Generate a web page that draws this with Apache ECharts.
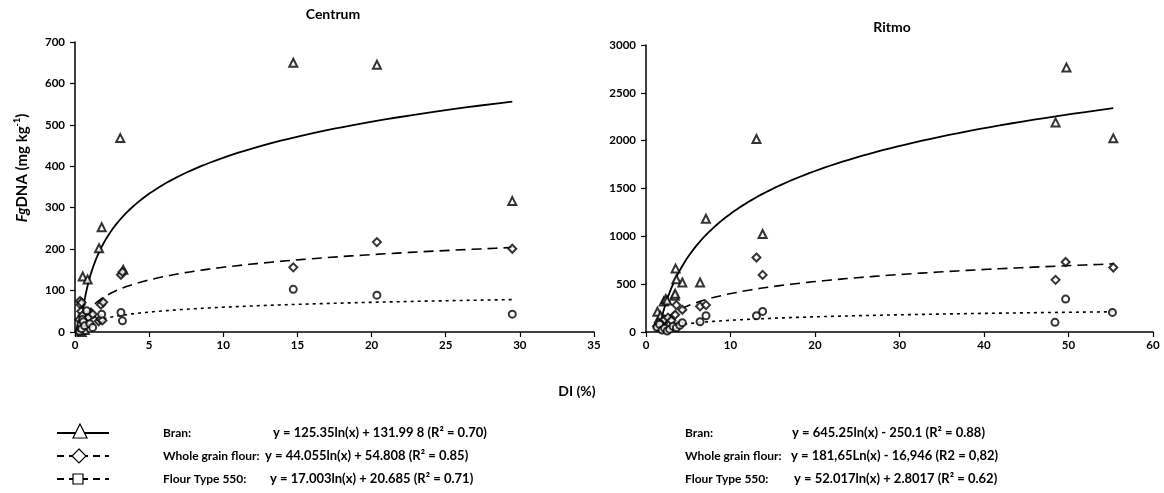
<!DOCTYPE html>
<html>
<head>
<meta charset="utf-8">
<script src="https://cdn.jsdelivr.net/npm/echarts@6/dist/echarts.min.js"></script>
<style>
  html, body { margin: 0; padding: 0; background: #fff; }
  #chart { width: 1164px; height: 493px; }
</style>
</head>
<body>
<div id="chart"></div>
<script>
// Centrum (left panel) – DI (%) vs FgDNA (mg/kg)
const centrumBranX  = [0.32, 0.38, 0.42, 0.45, 0.52, 0.56, 0.67, 0.85, 1.12, 1.62, 1.8, 3.05, 3.26, 14.72, 20.36, 29.49]
const centrumBranY  = [3, 12, 20, 0, 134, 30, 5, 127, 45, 202, 253, 468, 150, 650, 645, 316]
const centrumWholeX = [0.3, 0.34, 0.38, 0.42, 0.45, 0.5, 0.6, 0.9, 1.2, 1.6, 1.73, 1.75, 1.85, 1.9, 3.1, 3.2, 14.72, 20.36, 29.49]
const centrumWholeY = [30, 75, 66, 50, 71, 40, 20, 35, 43, 26, 31, 66, 28, 72, 138, 145, 156, 217, 201]
const centrumFlourX = [0.3, 0.35, 0.4, 0.45, 0.5, 0.56, 0.65, 0.79, 1.0, 1.19, 1.8, 3.1, 3.2, 14.72, 20.36, 29.49]
const centrumFlourY = [2, 10, 18, 8, 30, 25, 15, 51, 20, 11, 43, 47, 27, 103, 89, 43]

// Ritmo (right panel)
const ritmoBranX  = [1.35, 1.6, 1.7, 2.0, 2.1, 2.34, 2.5, 3.4, 3.45, 3.5, 3.6, 4.3, 6.4, 7.09, 13.07, 13.8, 48.47, 49.76, 55.3]
const ritmoBranY  = [211, 90, 170, 130, 320, 344, 330, 380, 400, 663, 552, 518, 518, 1184, 2017, 1024, 2191, 2764, 2024]
const ritmoWholeX = [1.3, 1.5, 1.8, 2.2, 2.6, 3.0, 3.45, 3.6, 4.3, 6.4, 7.1, 13.07, 13.8, 48.47, 49.66, 55.3]
const ritmoWholeY = [60, 100, 80, 130, 150, 120, 180, 281, 232, 268, 281, 778, 597, 545, 732, 674]
const ritmoFlourX = [1.3, 1.6, 1.9, 2.2, 2.5, 2.8, 3.2, 3.6, 4.0, 4.3, 6.4, 7.1, 13.07, 13.8, 48.4, 49.66, 55.2]
const ritmoFlourY = [50, 80, 20, 40, 10, 30, 60, 45, 70, 97, 107, 170, 170, 215, 101, 344, 205]

// logarithmic trend lines printed on the chart: y = a*ln(x) + b
const centrumTrendA = [125.35, 44.055, 17.003]
const centrumTrendB = [131.998, 54.808, 20.685]
const ritmoTrendA   = [645.25, 181.65, 52.017]
const ritmoTrendB   = [-250.1, -16.946, 2.8017]

const seriesNames = ['Bran', 'Whole grain flour', 'Flour Type 550']
const leftEquations  = ['y = 125.35ln(x) + 131.99 8 (R² = 0.70)', 'y = 44.055ln(x) + 54.808 (R² = 0.85)', 'y = 17.003ln(x) + 20.685 (R² = 0.71)']
const rightEquations = ['y = 645.25ln(x) - 250.1 (R² = 0.88)', 'y = 181,65Ln(x) - 16,946 (R2 = 0,82)', 'y = 52.017ln(x) + 2.8017 (R² = 0.62)']
const legendLabels = ['Bran:', 'Whole grain flour:', 'Flour Type 550:']

const FONT = 'Lato'
const symbols = ['emptyTriangle', 'emptyDiamond', 'emptyCircle']
const symbolSizes = [8, 8, 7]
const dashes = ['solid', [10, 6], [3, 4]]

function pairs(xs, ys) {
    return xs.map((x, i) => [x, ys[i]])
}

function trend(a, b, xs) {
    let lo = Math.min(...xs), hi = Math.max(...xs)
    let pts = []
    let n = 120
    for (let i = 0; i <= n; i++) {
        let x = lo * Math.pow(hi / lo, i / n)
        let y = a * Math.log(x) + b
        if (y >= 0) pts.push([x, y])
    }
    return pts
}

function scatter(name, idx, data, k) {
    return {
        name: name, type: 'scatter', xAxisIndex: idx, yAxisIndex: idx,
        data: data, symbol: symbols[k], symbolSize: symbolSizes[k],
        itemStyle: { color: '#000', borderColor: '#000', borderWidth: 0.7 },
        z: 3
    }
}

function trendLine(name, idx, data, k) {
    return {
        name: name, type: 'line', xAxisIndex: idx, yAxisIndex: idx,
        data: data, showSymbol: false, smooth: false,
        lineStyle: { color: '#000', width: k === 0 ? 1.8 : 1.6, type: dashes[k] },
        silent: true, z: 2
    }
}

const left = [pairs(centrumBranX, centrumBranY), pairs(centrumWholeX, centrumWholeY), pairs(centrumFlourX, centrumFlourY)]
const right = [pairs(ritmoBranX, ritmoBranY), pairs(ritmoWholeX, ritmoWholeY), pairs(ritmoFlourX, ritmoFlourY)]
const leftX = [centrumBranX, centrumWholeX, centrumFlourX]
const rightX = [ritmoBranX, ritmoWholeX, ritmoFlourX]

let series = []
for (let k = 0; k < 3; k++) {
    series.push(trendLine(seriesNames[k], 0, trend(centrumTrendA[k], centrumTrendB[k], leftX[k]), k))
    series.push(scatter(seriesNames[k], 0, left[k], k))
    series.push(trendLine(seriesNames[k], 1, trend(ritmoTrendA[k], ritmoTrendB[k], rightX[k]), k))
    series.push(scatter(seriesNames[k], 1, right[k], k))
}

const axisLabelStyle = { color: '#000', fontFamily: FONT, fontWeight: 'bold', fontSize: 11.5, formatter: v => String(v) }
const axisLineStyle = { show: true, onZero: false, lineStyle: { color: '#000', width: 1.5 } }
const tickStyle = { show: true, inside: false, length: 5, lineStyle: { color: '#000', width: 1.2 } }

function xAxis(idx, max, interval) {
    return {
        type: 'value', gridIndex: idx, min: 0, max: max, interval: interval,
        axisLine: axisLineStyle, axisTick: tickStyle, splitLine: { show: false },
        axisLabel: Object.assign({ margin: 7 }, axisLabelStyle)
    }
}

function yAxis(idx, max, interval) {
    return {
        type: 'value', gridIndex: idx, min: 0, max: max, interval: interval,
        axisLine: axisLineStyle, axisTick: tickStyle, splitLine: { show: false },
        axisLabel: Object.assign({ margin: 10 }, axisLabelStyle)
    }
}

// legend drawn by hand (Excel style): line sample + marker, label, equation
let graphics = []
const rowY = [433, 456, 479]
const leftLabelX = 163, leftEqX = [273, 265, 270]
const rightLabelX = 685, rightEqX = [792, 791, 794]
const labelStyle = { fill: '#000', font: 'bold 12px ' + FONT, textVerticalAlign: 'middle' }
const eqStyle = { fill: '#000', font: 'bold 13px ' + FONT, textVerticalAlign: 'middle' }

for (let k = 0; k < 3; k++) {
    let y = rowY[k]
    graphics.push({
        type: 'line', shape: { x1: 57, y1: y, x2: 109, y2: y },
        style: { stroke: '#000', lineWidth: 1.8, lineDash: k === 0 ? null : [7, 5] }
    })
    let marker
    if (k === 0) {
        marker = { type: 'polygon', shape: { points: [[80, y - 9], [73, y + 5], [87, y + 5]] } }
    } else if (k === 1) {
        marker = { type: 'polygon', shape: { points: [[79, y - 7], [86, y], [79, y + 7], [72, y]] } }
    } else {
        marker = { type: 'rect', shape: { x: 73, y: y - 5, width: 10, height: 10 } }
    }
    marker.style = { fill: '#fff', stroke: '#000', lineWidth: 1.2 }
    marker.z = 10
    graphics.push(marker)

    graphics.push({ type: 'text', x: leftLabelX, y: y, style: Object.assign({ text: legendLabels[k] }, labelStyle) })
    graphics.push({ type: 'text', x: leftEqX[k], y: y, style: Object.assign({ text: leftEquations[k] }, eqStyle) })
    graphics.push({ type: 'text', x: rightLabelX, y: y, style: Object.assign({ text: legendLabels[k] }, labelStyle) })
    graphics.push({ type: 'text', x: rightEqX[k], y: y, style: Object.assign({ text: rightEquations[k] }, eqStyle) })
}

// y axis name (Fg italic, kg^-1)
graphics.push({
    type: 'text', x: 22, y: 168, rotation: Math.PI / 2,
    style: {
        text: '{i|Fg}{n|DNA (mg kg}{s|-1}{n|)}',
        textAlign: 'center', textVerticalAlign: 'middle',
        rich: {
            i: { fontFamily: FONT, fontWeight: 'bold', fontStyle: 'italic', fontSize: 15, fill: '#000' },
            n: { fontFamily: FONT, fontWeight: 'bold', fontSize: 15, fill: '#000' },
            s: { fontFamily: FONT, fontWeight: 'bold', fontSize: 9, fill: '#000', padding: [0, 0, 9, 0] }
        }
    }
})
// x axis name
graphics.push({
    type: 'text', x: 577, y: 391,
    style: { text: 'DI (%)', fill: '#000', font: 'bold 14px ' + FONT, textAlign: 'center', textVerticalAlign: 'middle' }
})

const option = {
    backgroundColor: '#fff',
    animation: false,
    title: [
        { text: 'Centrum', left: 328, top: 2, textAlign: 'center',
          textStyle: { fontFamily: FONT, fontWeight: 'bold', fontSize: 14, color: '#000' } },
        { text: 'Ritmo', left: 887, top: 15, textAlign: 'center',
          textStyle: { fontFamily: FONT, fontWeight: 'bold', fontSize: 14, color: '#000' } }
    ],
    grid: [
        { left: 75, right: 570, top: 42, bottom: 161 },
        { left: 646, right: 11, top: 45, bottom: 161 }
    ],
    xAxis: [xAxis(0, 35, 5), xAxis(1, 60, 10)],
    yAxis: [yAxis(0, 700, 100), yAxis(1, 3000, 500)],
    series: series,
    graphic: graphics
}

let chart = echarts.init(document.getElementById('chart'))
chart.setOption(option)
</script>
</body>
</html>
